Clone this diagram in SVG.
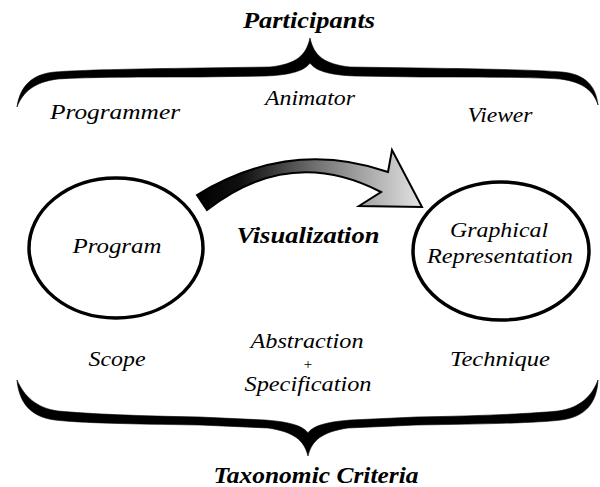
<svg xmlns="http://www.w3.org/2000/svg" width="600" height="487" viewBox="0 0 600 487">
<style>
text{font-family:"Liberation Serif","Times New Roman",serif;font-style:italic;fill:#000;text-anchor:middle;font-size:21px}
.title{font-weight:bold;font-size:23px}
.node{fill:#fff;stroke:#000;stroke-width:3.5}
.brace{fill:#000;stroke:#000;stroke-width:0.6}
</style>
<defs>
<linearGradient id="arrowGrad" gradientUnits="userSpaceOnUse" x1="197" y1="0" x2="422" y2="0">
<stop offset="0" stop-color="#000"/>
<stop offset="0.2" stop-color="#111"/>
<stop offset="0.55" stop-color="#777"/>
<stop offset="1" stop-color="#e4e4e4"/>
</linearGradient>
</defs>
<rect width="600" height="487" fill="#fff"/>

<g id="participants">
<text class="title" x="309" y="28" textLength="132" lengthAdjust="spacingAndGlyphs">Participants</text>
<path class="brace" d="M310,38 C306,56 296,64 270,67 L200,68 C130,69 80,70 55,72 C32,74 20,86 17,107 C23,92 34,82 58,79 C90,77 140,77 200,77 L265,76 C293,75 305,70 310,63 C315,70 327,75 355,76 L420,77 C480,77 530,77 560,79 C584,82 594,92 598,105 C596,86 585,74 562,72 C537,70 490,69 420,68 L350,67 C324,64 314,56 310,38 Z"/>
<text x="115" y="119" textLength="130" lengthAdjust="spacingAndGlyphs">Programmer</text>
<text x="310" y="105" textLength="90" lengthAdjust="spacingAndGlyphs">Animator</text>
<text x="500" y="122" textLength="65" lengthAdjust="spacingAndGlyphs">Viewer</text>
</g>

<g id="program">
<ellipse class="node" cx="116" cy="248" rx="87" ry="70"/>
<text x="117" y="253" textLength="89" lengthAdjust="spacingAndGlyphs">Program</text>
</g>

<g id="graphical-representation">
<ellipse class="node" cx="501" cy="251" rx="88" ry="69"/>
<text x="499" y="237" textLength="98" lengthAdjust="spacingAndGlyphs">Graphical</text>
<text x="500" y="263" textLength="146" lengthAdjust="spacingAndGlyphs">Representation</text>
</g>

<g id="connectors">
<path d="M197,195 Q290,138 388,172 L392,150 L422,207 L359,206 L381,192 Q290,145 207,210 Z" fill="url(#arrowGrad)" stroke="#000" stroke-width="2" stroke-linejoin="miter"/>
<text class="title" x="308" y="243" textLength="143" lengthAdjust="spacingAndGlyphs">Visualization</text>
</g>

<g id="taxonomic-criteria">
<text x="117" y="366" textLength="57" lengthAdjust="spacingAndGlyphs">Scope</text>
<text x="307" y="348" textLength="113" lengthAdjust="spacingAndGlyphs">Abstraction</text>
<text x="308" y="369" style="font-size:15px;font-style:normal">+</text>
<text x="308" y="391" textLength="127" lengthAdjust="spacingAndGlyphs">Specification</text>
<text x="500" y="366" textLength="100" lengthAdjust="spacingAndGlyphs">Technique</text>
<path class="brace" d="M308,456 C304,440 294,432 268,428 L200,425 C130,424 80,423 55,420 C30,417 19,402 17,380 C24,396 36,408 58,411 C90,414 140,416 200,417 L265,420 C293,422 304,427 308,433 C312,427 323,422 351,420 L416,417 C476,416 526,414 558,411 C580,408 592,396 598,380 C597,402 586,417 561,420 C536,423 486,424 416,425 L348,428 C322,432 312,440 308,456 Z"/>
<text class="title" x="316" y="483" textLength="205" lengthAdjust="spacingAndGlyphs">Taxonomic Criteria</text>
</g>
</svg>
